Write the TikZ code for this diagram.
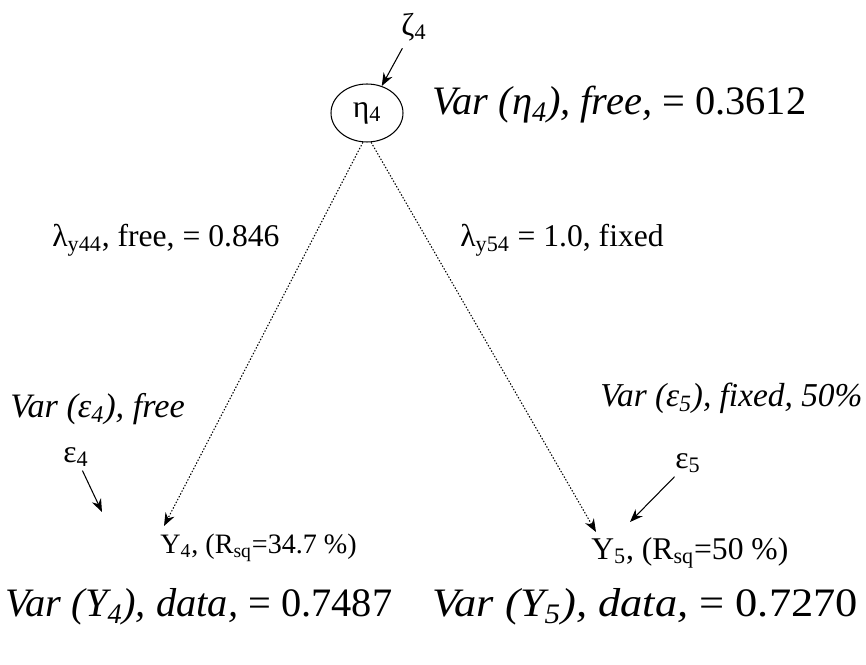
\documentclass[tikz,border=0pt]{standalone}
\usepackage{fontspec}
\setmainfont{Liberation Serif}
\usetikzlibrary{arrows.meta, shapes.geometric}

\newcommand{\sbs}[1]{\textsubscript{#1}}

\begin{document}
\begin{tikzpicture}[x=0.02cm, y=-0.02cm,
    latent/.style={draw, ellipse, semithick, minimum width=1.44cm, minimum height=1.16cm, inner sep=0pt},
    bigvar/.style={font=\fontsize{23}{25}\selectfont, inner sep=0pt},
    midvar/.style={font=\fontsize{19.5}{21}\selectfont\itshape, inner sep=0pt},
    lbl/.style={font=\fontsize{18}{20}\selectfont, inner sep=0pt},
    err/.style={font=\fontsize{18}{20}\selectfont, inner sep=2pt},
    path/.style={line width=0.6pt, dash pattern=on 0.8pt off 1pt, -{Stealth[length=2.6mm, width=2mm]}},
    errarrow/.style={semithick, -{Stealth[length=2.6mm, width=2mm]}}]
        \useasboundingbox (0,0) rectangle (866,665);
        % latent variable
        \node[latent, font=\fontsize{18}{20}\selectfont] (eta) at (367,113) {η\sbs{4}};
        \node[err, inner sep=4pt] (zeta) at (414,27) {ζ\sbs{4}};
        \node[bigvar, anchor=west] (vareta) at (432,105) {\textit{Var (η\sbs{4}), free,} = 0.3612};
        % loadings
        \node[lbl, anchor=west] (l44) at (52,240) {λ\sbs{y44}, free, = 0.846};
        \node[lbl, anchor=west] (l54) at (460,240) {λ\sbs{y54} = 1.0, fixed};
        % indicators
        \node[lbl, font=\fontsize{16}{18}\selectfont, anchor=west] (y4) at (160,548) {Y\sbs{4}, (R\sbs{sq}=34.7 \%)};
        \node[lbl, anchor=west] (y5) at (591,553) {Y\sbs{5}, (R\sbs{sq}=50 \%)};
        \coordinate (t4) at (164,526);
        \coordinate (t5) at (596,532);
        % errors
        \node[midvar, anchor=west] (vare4) at (10,409) {Var (ε\sbs{4}), free};
        \node[midvar, font=\fontsize{19}{21}\selectfont\itshape, anchor=west] (vare5) at (600,398) {Var (ε\sbs{5}), fixed, 50\%};
        \node[err] (e4) at (76,457) {ε\sbs{4}};
        \node[err] (e5) at (688,463) {ε\sbs{5}};
        \coordinate (e4in) at (102,512);
        \coordinate (e5in) at (630,522);
        % observed variances
        \node[bigvar, anchor=west] (vary4) at (5,607) {\textit{Var (Y\sbs{4}), data,} = 0.7487};
        \node[bigvar, anchor=west] (vary5) at (432,607) {\scalebox{1.1}[1]{\textit{Var (Y\sbs{5}), data,} = 0.7270}};
        % arrows
        \draw[errarrow] (zeta) -- (eta);
        \draw[path] (eta.262) -- (t4);
        \draw[path] (eta.278) -- (t5);
        \draw[errarrow] (e4) -- (e4in);
        \draw[errarrow] (e5) -- (e5in);
      \end{tikzpicture}
\end{document}
